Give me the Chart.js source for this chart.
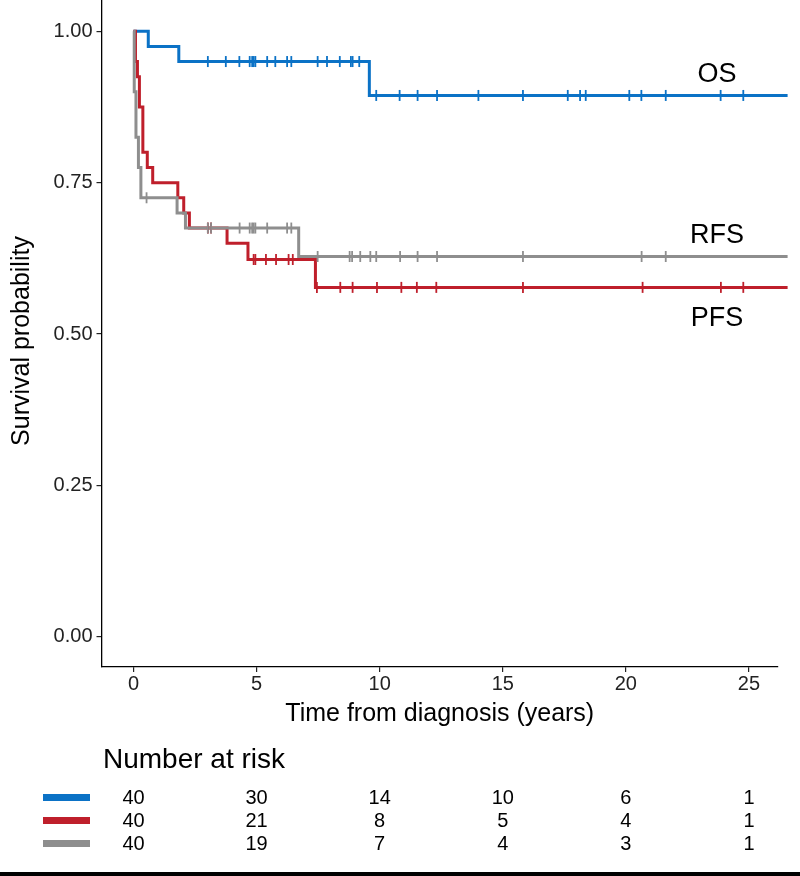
<!DOCTYPE html>
<html><head><meta charset="utf-8">
<script src="https://cdn.jsdelivr.net/npm/chart.js@4/dist/chart.umd.min.js"></script>
<style>html,body{margin:0;padding:0;background:#fff;}canvas{display:block;}</style>
</head><body>
<canvas id="c" width="800" height="876"></canvas>
<script>
// ---- data ----
const seriesNames = ['OS', 'PFS', 'RFS'];

const osTimes  = [0, 0.6, 1.84, 9.58, 26.57];
const osSurv   = [1.0, 0.975, 0.95, 0.894, 0.894];
const osCensor = [3.02, 3.75, 4.30, 4.72, 4.82, 4.88, 4.95, 5.43, 5.76, 6.24, 6.41, 7.48, 7.86, 8.38, 8.83, 8.90, 9.17,
                  9.86, 10.81, 11.54, 12.33, 14.01, 15.82, 17.64, 18.14, 18.37, 20.14, 20.63, 21.62, 23.85, 24.77, 26.57];

const pfsTimes  = [0, 0.08, 0.16, 0.24, 0.38, 0.56, 0.78, 1.80, 2.04, 2.27, 3.80, 4.65, 7.39, 26.57];
const pfsSurv   = [1.0, 0.95, 0.925, 0.875, 0.80, 0.775, 0.75, 0.725, 0.70, 0.675, 0.65, 0.623, 0.577, 0.577];
const pfsCensor = [3.02, 3.15, 4.88, 4.95, 5.38, 5.79, 6.30, 6.47, 7.45, 8.40, 8.90, 9.89, 10.88, 11.51, 12.30,
                   15.82, 20.68, 23.86, 24.77, 26.57];

const rfsTimes  = [0, 0.03, 0.10, 0.20, 0.30, 1.77, 2.11, 6.71, 26.57];
const rfsSurv   = [1.0, 0.90, 0.825, 0.775, 0.725, 0.70, 0.675, 0.628, 0.628];
const rfsCensor = [0.53, 3.02, 3.15, 4.31, 4.72, 4.82, 4.88, 4.95, 5.43, 6.24, 6.41, 7.48, 8.78, 8.88, 9.21, 9.62, 9.86,
                   10.83, 11.54, 12.33, 15.82, 20.64, 21.62, 26.57];

const riskTimes = [0, 5, 10, 15, 20, 25];
const osRisk  = [40, 30, 14, 10, 6, 1];
const pfsRisk = [40, 21, 8, 5, 4, 1];
const rfsRisk = [40, 19, 7, 4, 3, 1];

const xTicks = [0, 5, 10, 15, 20, 25];
const yTicks = [0, 0.25, 0.5, 0.75, 1.0];

// label anchors (data coordinates)
const curveLabelX = [23.7, 23.7, 23.7];
const curveLabelY = [0.929, 0.526, 0.663];

// ---- styling ----
const COLORS = {OS: '#0b72c6', PFS: '#bf1f2b', RFS: '#8e8e8e'};
const FONT = '"Liberation Sans", Arial, Helvetica, sans-serif';

function stepValue(times, surv, t) {
  let v = surv[0];
  for (let i = 0; i < times.length; i++) { if (times[i] <= t) v = surv[i]; }
  return v;
}
function curve(times, surv) { return times.map((t, i) => ({x: t, y: surv[i]})); }
function marks(times, surv, cens) { return cens.map(t => ({x: t, y: stepValue(times, surv, t)})); }

const series = [
  {name: 'RFS', times: rfsTimes, surv: rfsSurv, cens: rfsCensor},
  {name: 'PFS', times: pfsTimes, surv: pfsSurv, cens: pfsCensor},
  {name: 'OS',  times: osTimes,  surv: osSurv,  cens: osCensor}
];

const datasets = [];
series.forEach(s => {
  datasets.push({
    label: s.name + ' censored', data: marks(s.times, s.surv, s.cens), showLine: false,
    pointStyle: 'line', rotation: 90, pointRadius: 5.5, pointBorderWidth: 1.8,
    borderColor: COLORS[s.name], backgroundColor: COLORS[s.name], clip: false
  });
});
series.forEach(s => {
  datasets.push({
    label: s.name, data: curve(s.times, s.surv), stepped: true, borderWidth: 3,
    borderColor: COLORS[s.name], pointRadius: 0, fill: false, clip: false
  });
});

const overlay = {
  id: 'overlay',
  afterDatasetsDraw(chart) {
    const {ctx, scales: {x, y}} = chart;
    ctx.save();
    ctx.fillStyle = '#000';
    ctx.font = '27px ' + FONT;
    ctx.textAlign = 'center';
    ctx.textBaseline = 'middle';
    seriesNames.forEach((n, i) => {
      ctx.fillText(n, x.getPixelForValue(curveLabelX[i]), y.getPixelForValue(curveLabelY[i]));
    });
    ctx.restore();
  },
  afterDraw(chart) {
    const {ctx, scales: {x}} = chart;
    ctx.save();
    // y-axis title
    ctx.fillStyle = '#000';
    ctx.font = '25px ' + FONT;
    ctx.textAlign = 'center';
    ctx.textBaseline = 'middle';
    ctx.translate(22, 341);
    ctx.rotate(-Math.PI / 2);
    ctx.fillText('Survival probability', 0, 0);
    ctx.restore();

    ctx.save();
    ctx.fillStyle = '#000';
    ctx.font = '28px ' + FONT;
    ctx.textAlign = 'left';
    ctx.textBaseline = 'alphabetic';
    ctx.fillText('Number at risk', 103, 768);
    const rows = [{c: COLORS.OS, v: osRisk}, {c: COLORS.PFS, v: pfsRisk}, {c: COLORS.RFS, v: rfsRisk}];
    const rowY = [797.5, 820.5, 843.5];
    ctx.font = '20px ' + FONT;
    ctx.textAlign = 'center';
    ctx.textBaseline = 'middle';
    rows.forEach((r, i) => {
      ctx.fillStyle = r.c;
      ctx.fillRect(43, rowY[i] - 3.5, 47, 7);
      ctx.fillStyle = '#000';
      r.v.forEach((val, j) => ctx.fillText(String(val), x.getPixelForValue(riskTimes[j]), rowY[i] + 1));
    });
    ctx.fillStyle = '#000';
    ctx.fillRect(0, 872, 800, 4);
    ctx.restore();
  }
};

new Chart(document.getElementById('c'), {
  type: 'line',
  data: {datasets},
  options: {
    responsive: false, devicePixelRatio: 1, animation: false,
    layout: {autoPadding: false, padding: {top: 1, right: 22, bottom: 147, left: 0}},
    plugins: {legend: {display: false}, tooltip: {enabled: false}},
    scales: {
      x: {
        type: 'linear', min: -1.3, max: 26.18,
        afterBuildTicks: s => { s.ticks = xTicks.map(v => ({value: v})); },
        afterFit: s => { s.height = 62; s.paddingLeft = 0; s.paddingRight = 0; },
        grid: {display: true, drawOnChartArea: false, drawTicks: true, tickLength: 5, color: '#222', lineWidth: 1.2},
        border: {display: true, color: '#000', width: 1.3},
        ticks: {color: '#222', padding: 0, font: {family: FONT, size: 20}, maxRotation: 0, callback: v => String(v)},
        title: {display: true, text: 'Time from diagnosis (years)', color: '#000', font: {family: FONT, size: 25}, padding: {top: 0, bottom: 0}}
      },
      y: {
        type: 'linear', min: -0.05, max: 1.05,
        afterBuildTicks: s => { s.ticks = yTicks.map(v => ({value: v})); },
        afterFit: s => { s.width = 101.5; s.paddingTop = 0; s.paddingBottom = 0; },
        grid: {display: true, drawOnChartArea: false, drawTicks: true, tickLength: 5, color: '#222', lineWidth: 1.2},
        border: {display: true, color: '#000', width: 1.3},
        ticks: {color: '#222', padding: 4, font: {family: FONT, size: 20}, callback: v => Number(v).toFixed(2)},
        title: {display: false}
      }
    }
  },
  plugins: [overlay]
});
</script>
</body></html>
